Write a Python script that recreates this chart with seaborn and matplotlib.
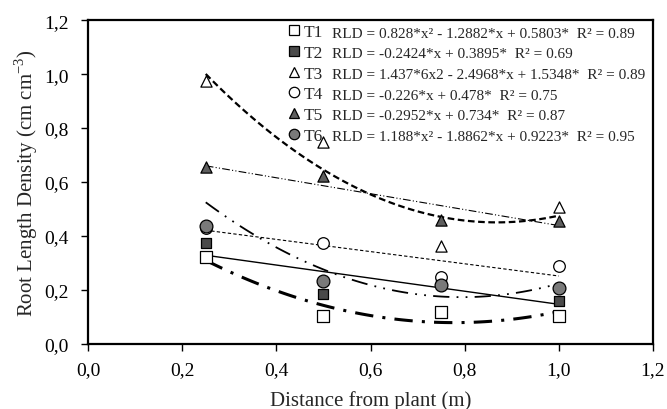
import numpy as np
import pandas as pd
import matplotlib
matplotlib.use("Agg")
import matplotlib.pyplot as plt
from matplotlib.lines import Line2D
from matplotlib.ticker import FuncFormatter, MultipleLocator
import seaborn as sns

# distance from plant (m)
distance = [0.25, 0.50, 0.75, 1.00]
treatments = ["T1", "T2", "T3", "T4", "T5", "T6"]

# root length density
t1 = [0.322, 0.104, 0.118, 0.104]
t2 = [0.374, 0.185, 0.232, 0.160]
t3 = [0.974, 0.748, 0.363, 0.507]
t4 = [0.430, 0.374, 0.248, 0.289]
t5 = [0.656, 0.622, 0.458, 0.456]
t6 = [0.437, 0.233, 0.218, 0.207]

# trendline coefficients (highest power first), as given in the legend
coef = {
    "T1": [0.828, -1.2882, 0.5803],
    "T2": [-0.2424, 0.3895],
    "T3": [1.4376, -2.4968, 1.5348],
    "T4": [-0.226, 0.478],
    "T5": [-0.2952, 0.734],
    "T6": [1.188, -1.8862, 0.9223],
}
equations = [
    "RLD = 0.828*x\u00b2 - 1.2882*x + 0.5803*  R\u00b2 = 0.89",
    "RLD = -0.2424*x + 0.3895*  R\u00b2 = 0.69",
    "RLD = 1.437*6x2 - 2.4968*x + 1.5348*  R\u00b2 = 0.89",
    "RLD = -0.226*x + 0.478*  R\u00b2 = 0.75",
    "RLD = -0.2952*x + 0.734*  R\u00b2 = 0.87",
    "RLD = 1.188*x\u00b2 - 1.8862*x + 0.9223*  R\u00b2 = 0.95",
]

values = [t1, t2, t3, t4, t5, t6]
df = pd.DataFrame({
    "distance": distance * len(treatments),
    "rld": np.concatenate(values),
    "trt": np.repeat(treatments, len(distance)),
})

fills = {"T1": "white", "T2": "#4a4a4a", "T3": "white",
         "T4": "white", "T5": "#5e5e5e", "T6": "#7a7a7a"}
marks = {"T1": "s", "T2": "s", "T3": "^", "T4": "o", "T5": "^", "T6": "o"}
msize = {"T1": 75, "T2": 50, "T3": 65, "T4": 70, "T5": 65, "T6": 85}
styles = {
    "T1": dict(lw=2.2, dashes=(6, 3, 1, 3)),
    "T2": dict(lw=1.0, dashes=()),
    "T3": dict(lw=1.6, dashes=(3, 1.6)),
    "T4": dict(lw=0.8, dashes=(3, 2)),
    "T5": dict(lw=0.8, dashes=(7, 2, 1, 2, 1, 2)),
    "T6": dict(lw=1.3, dashes=(9, 4, 1, 4, 1, 4)),
}

sns.set_style("ticks")
plt.rcParams["font.family"] = ["Liberation Serif", "DejaVu Serif"]
plt.rcParams["mathtext.fontset"] = "custom"
plt.rcParams["mathtext.rm"] = "Liberation Serif"

fig = plt.figure(figsize=(6.67, 4.10), dpi=100)
ax = fig.add_axes([0.132, 0.1585, 0.847, 0.790])

xs = np.linspace(0.25, 1.0, 100)
for t in treatments:
    st = styles[t]
    ln, = ax.plot(xs, np.polyval(coef[t], xs), color="black", lw=st["lw"], zorder=2)
    if st["dashes"]:
        ln.set_dashes(st["dashes"])

for t in treatments:
    sub = df[df["trt"] == t]
    sns.scatterplot(data=sub, x="distance", y="rld", ax=ax, marker=marks[t],
                    color=fills[t], edgecolor="black", linewidth=0.9,
                    s=msize[t], zorder=3, legend=False)

ax.set_xlim(0, 1.2)
ax.set_ylim(0, 1.2)
ax.xaxis.set_major_locator(MultipleLocator(0.2))
ax.yaxis.set_major_locator(MultipleLocator(0.2))
fmt = FuncFormatter(lambda v, p: f"{v:.1f}".replace(".", ","))
ax.xaxis.set_major_formatter(fmt)
ax.yaxis.set_major_formatter(fmt)
ax.tick_params(axis="both", direction="out", length=5, width=1, labelsize=14,
               colors="black", top=False, right=False)
ax.tick_params(axis="x", pad=7)
ax.tick_params(axis="y", pad=9)
for sp in ax.spines.values():
    sp.set_visible(True)
    sp.set_linewidth(1.6)
    sp.set_color("black")
ax.set_xlabel("Distance from plant (m)", fontsize=15, labelpad=9)
ax.set_ylabel("Root Length Density (cm cm$^{-3}$)", fontsize=15, labelpad=3)

handles = [Line2D([], [], ls="none", marker=marks[t], markerfacecolor=fills[t],
                  markeredgecolor="black", markeredgewidth=0.9, markersize=7.5)
           for t in treatments]
leg = ax.legend(handles, treatments, loc="upper left", bbox_to_anchor=(0.333, 1.025),
                frameon=False, fontsize=12.5, handlelength=0.7, handletextpad=0.2,
                labelspacing=0.26, borderaxespad=0.3)

fig.canvas.draw()
r = fig.canvas.get_renderer()
inv = fig.transFigure.inverted()
for txt, eq in zip(leg.get_texts(), equations):
    bb = txt.get_window_extent(r)
    x, y = inv.transform((bb.x1 + 9, (bb.y0 + bb.y1) / 2 - 1))
    fig.text(x, y, eq, fontsize=11, va="center", ha="left")

fig.savefig("out.png", dpi=100)
